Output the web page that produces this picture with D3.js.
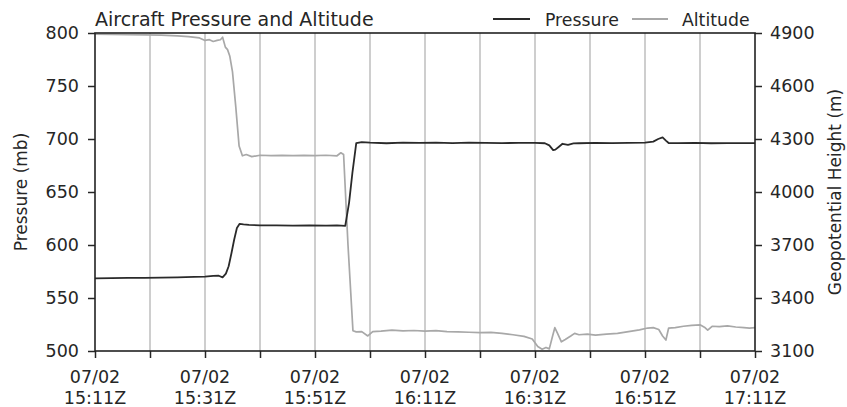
<!DOCTYPE html>
<html>
<head>
<meta charset="utf-8">
<script src="https://cdn.jsdelivr.net/npm/d3@7"></script>
<style>
  html, body { margin: 0; padding: 0; background: #fff; }
  svg { display: block; font-family: "DejaVu Sans", sans-serif; }
</style>
</head>
<body>
<svg id="chart" width="847" height="407"></svg>
<script>
// ---- Data (minutes after 07/02 15:11Z) ----
const startTime = Date.UTC(2020, 6, 2, 15, 11);
const pressureMinutes = [0, 3, 6, 9, 12, 15, 18, 20, 21.5, 22.5, 23.2, 23.8, 24.3, 24.8, 25.3, 25.8, 26.3, 27, 28, 30,
  33, 36, 39, 42, 44, 45.5, 46.2, 46.8, 47.5, 48.5, 50, 53, 56, 59, 62, 65, 68, 71, 74, 77,
  80, 81.8, 82.6, 83.3, 83.7, 84.3, 85, 86, 87, 88, 91, 94, 97, 100, 101.5, 102.4, 103.2, 103.8, 104.3, 106,
  109, 112, 115, 118, 120];
const pressureValues = [568.5, 568.7, 569, 569, 569.2, 569.5, 570, 570.2, 570.8, 571, 569.5, 573, 580, 592, 605, 616, 620, 619.5, 619, 618.5,
  618.5, 618.3, 618.5, 618.3, 618.5, 618, 640, 668, 696, 697, 696.5, 696, 696.5, 696.3, 696.5, 696.2, 696.5, 696.3, 696.2, 696.3,
  696.3, 696, 694, 689.5, 690, 692.5, 695.5, 694.5, 695.8, 696, 696.3, 696.1, 696.3, 696.5, 697.5, 700, 701.5, 698.5, 696.2, 696.2,
  696.3, 696, 696.2, 696.2, 696.2];

const altitudeMinutes = [0, 3, 6, 9, 12, 15, 17, 19, 20, 20.8,
  21.5, 22.2, 22.8, 23.2, 23.7, 24.1, 24.5, 25, 25.6, 26.2,
  26.8, 27.5, 28.5, 30, 32, 34, 36, 38, 40, 42,
  44, 44.7, 45.2, 46, 46.9, 47.5, 48.5, 49.6, 50.5, 52,
  54, 56, 58, 60, 62, 64, 66, 68, 70, 72,
  74, 76, 78, 79.5, 80.5, 81.3, 82, 82.6, 83.2, 83.6,
  84.1, 84.8, 85.5, 86.5, 87.2, 88, 89.5, 91, 93, 95,
  97, 99, 100.5, 101.5, 102.5, 103.2, 103.8, 104.3, 105.5, 107,
  108.5, 110, 110.8, 111.4, 112.2, 113.5, 115, 116.5, 118, 119,
  120];
const altitudeValues = [4893, 4892, 4890, 4889, 4888, 4884, 4880, 4872, 4858, 4862,
  4852, 4858, 4862, 4876, 4820, 4806, 4770, 4680, 4480, 4260,
  4205, 4212, 4200, 4208, 4206, 4207, 4206, 4207, 4206, 4208,
  4205, 4222, 4212, 3700, 3215, 3208, 3210, 3185, 3210, 3212,
  3218, 3214, 3216, 3212, 3215, 3210, 3208, 3206, 3204, 3205,
  3200, 3192, 3183, 3168, 3125, 3110, 3120, 3112, 3185, 3232,
  3200, 3152, 3165, 3185, 3200, 3192, 3195, 3190, 3196, 3200,
  3210, 3220, 3230, 3232, 3222, 3185, 3162, 3230, 3232, 3240,
  3245, 3248, 3235, 3218, 3240, 3238, 3242, 3236, 3232, 3230,
  3232];

const pressureTicks = [500, 550, 600, 650, 700, 750, 800];
const altitudeTicks = [3100, 3400, 3700, 4000, 4300, 4600, 4900];
const timeTickMinutes = [0, 10, 20, 30, 40, 50, 60, 70, 80, 90, 100, 110, 120];
const labeledTickMinutes = [0, 20, 40, 60, 80, 100, 120];

const title = "Aircraft Pressure and Altitude";
const seriesNames = ["Pressure", "Altitude"];
const yLabelLeft = "Pressure (mb)";
const yLabelRight = "Geopotential Height (m)";

// ---- Layout ----
const W = 847, H = 407;
const margin = { left: 95, right: 92, top: 33, bottom: 56 };
const iw = W - margin.left - margin.right;
const ih = H - margin.top - margin.bottom;
const toDate = m => new Date(startTime + m * 60000);

const svg = d3.select("#chart");
const g = svg.append("g").attr("transform", `translate(${margin.left},${margin.top})`);

const x = d3.scaleUtc().domain([toDate(0), toDate(120)]).range([0, iw]);
const yP = d3.scaleLinear().domain([500, 800]).range([ih, 0]);
const yA = d3.scaleLinear().domain([3100, 4900]).range([ih, 0]);

const textColor = "#262626";
const fontTick = 17.5;

// grid lines
g.append("g").selectAll("line").data(timeTickMinutes.slice(1, -1)).join("line")
  .attr("x1", d => x(toDate(d))).attr("x2", d => x(toDate(d)))
  .attr("y1", 0).attr("y2", ih)
  .attr("stroke", "#b4b4b4").attr("stroke-width", 1.3);

// lines
const pData = pressureMinutes.map((m, i) => [toDate(m), pressureValues[i]]);
const aData = altitudeMinutes.map((m, i) => [toDate(m), altitudeValues[i]]);

g.append("path").datum(aData)
  .attr("fill", "none").attr("stroke", "#a8a8a8").attr("stroke-width", 1.7)
  .attr("stroke-linejoin", "round")
  .attr("d", d3.line().x(d => x(d[0])).y(d => yA(d[1])));

g.append("path").datum(pData)
  .attr("fill", "none").attr("stroke", "#2a2a2a").attr("stroke-width", 1.8)
  .attr("stroke-linejoin", "round")
  .attr("d", d3.line().x(d => x(d[0])).y(d => yP(d[1])));

// axes
const fmtDate = d3.utcFormat("%m/%d");
const fmtTime = d3.utcFormat("%H:%MZ");

const xAxis = d3.axisBottom(x).tickValues(timeTickMinutes.map(toDate))
  .tickSize(7).tickFormat("");
const xg = g.append("g").attr("transform", `translate(0,${ih})`).call(xAxis);

const labelSet = new Set(labeledTickMinutes);
const xl = g.append("g").attr("transform", `translate(0,${ih})`);
timeTickMinutes.filter(m => labelSet.has(m)).forEach(m => {
  const t = xl.append("text").attr("x", x(toDate(m))).attr("text-anchor", "middle")
    .attr("fill", textColor).attr("font-size", fontTick);
  t.append("tspan").attr("x", x(toDate(m))).attr("y", 32).text(fmtDate(toDate(m)));
  t.append("tspan").attr("x", x(toDate(m))).attr("y", 53).text(fmtTime(toDate(m)));
});

const ylg = g.append("g").call(d3.axisLeft(yP).tickValues(pressureTicks).tickSize(7).tickPadding(9).tickFormat(d3.format("d")));
const yrg = g.append("g").attr("transform", `translate(${iw},0)`)
  .call(d3.axisRight(yA).tickValues(altitudeTicks).tickSize(7).tickPadding(8).tickFormat(d3.format("d")));

[xg, ylg, yrg].forEach(a => {
  a.select(".domain").remove();
  a.selectAll(".tick line").attr("stroke", textColor).attr("stroke-width", 1.5);
  a.selectAll(".tick text").attr("fill", textColor).attr("font-size", fontTick).attr("font-family", "DejaVu Sans");
});

// frame
g.append("rect").attr("x", 0).attr("y", 0).attr("width", iw).attr("height", ih)
  .attr("fill", "none").attr("stroke", "#222").attr("stroke-width", 1.6);

// title
svg.append("text").attr("x", margin.left).attr("y", 26)
  .attr("font-size", 19).attr("fill", textColor).text(title);

// legend
const legend = svg.append("g");
const legendItems = [
  { name: seriesNames[0], color: "#2a2a2a", x1: 493, x2: 530, tx: 545 },
  { name: seriesNames[1], color: "#a8a8a8", x1: 632, x2: 668, tx: 682 }
];
legendItems.forEach(it => {
  legend.append("line").attr("x1", it.x1).attr("x2", it.x2).attr("y1", 19).attr("y2", 19)
    .attr("stroke", it.color).attr("stroke-width", 1.8);
  legend.append("text").attr("x", it.tx).attr("y", 26).attr("font-size", 17.3)
    .attr("fill", textColor).text(it.name);
});

// axis titles
svg.append("text").attr("transform", `translate(27,${margin.top + ih / 2}) rotate(-90)`)
  .attr("text-anchor", "middle").attr("font-size", 17).attr("fill", textColor).text(yLabelLeft);
svg.append("text").attr("transform", `translate(841,${margin.top + ih / 2}) rotate(-90)`)
  .attr("text-anchor", "middle").attr("font-size", 17).attr("fill", textColor).text(yLabelRight);
</script>
</body>
</html>
